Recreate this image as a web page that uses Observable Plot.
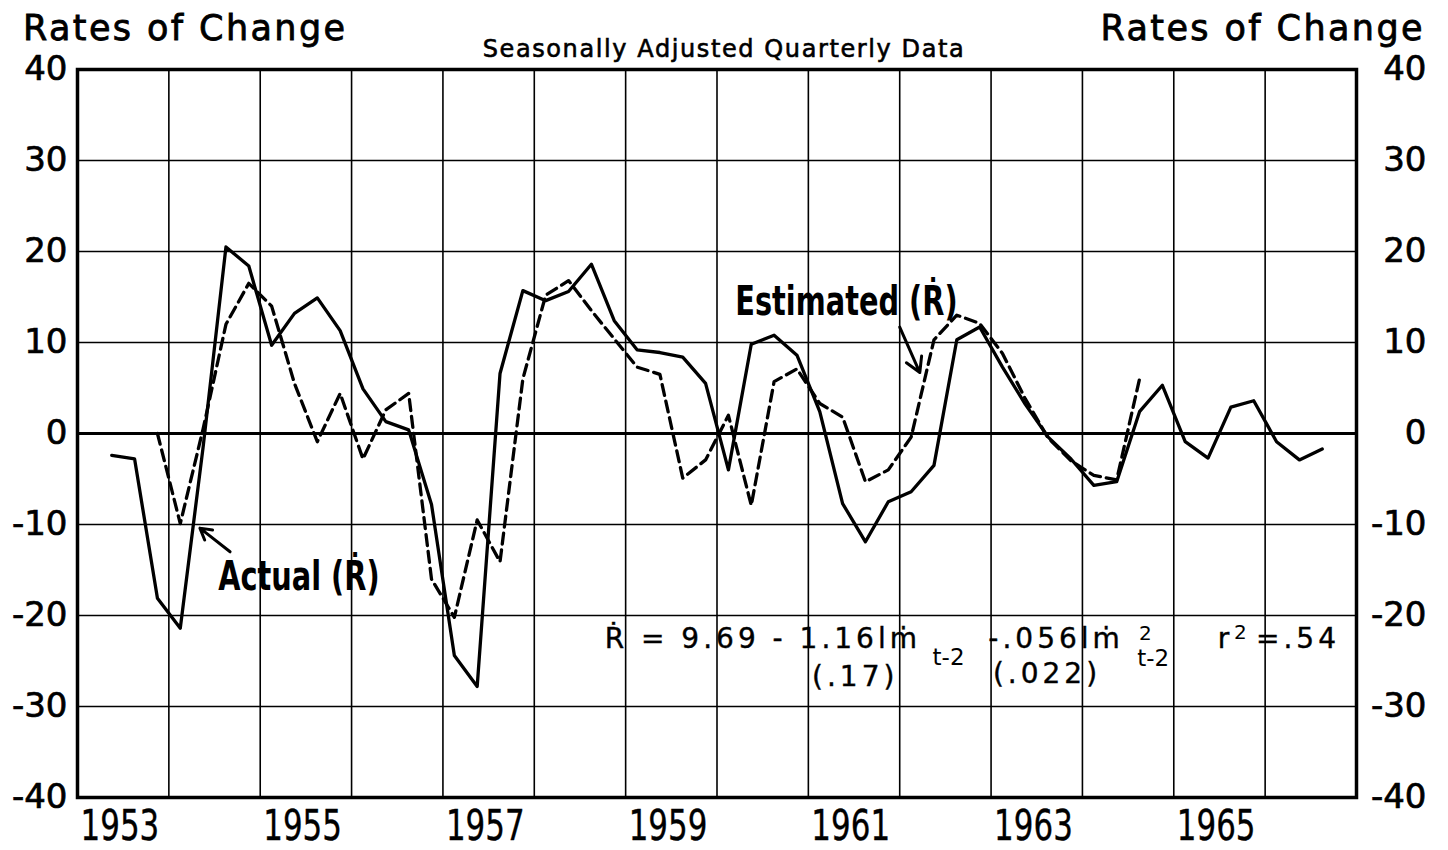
<!DOCTYPE html>
<html><head><meta charset="utf-8">
<script src="https://cdn.jsdelivr.net/npm/d3@7"></script>
<script src="https://cdn.jsdelivr.net/npm/@observablehq/plot@0.6"></script>
<style>
html,body{margin:0;padding:0;background:#fff;}
#chart{position:relative;width:1448px;height:850px;}
</style></head><body><div id="chart"></div>
<script>
// ---- data ----
const yearGrid = [1953,1954,1955,1956,1957,1958,1959,1960,1961,1962,1963,1964,1965,1966,1967];
const yearLabels = [1953,1955,1957,1959,1961,1963,1965];
const yTicks = [-40,-30,-20,-10,0,10,20,30,40];

// Actual (R-dot), quarterly, first value = 1953 Q2
const actualFirstYear = 1953, actualFirstQuarter = 2;
const actualValues = [
  -2.4, -2.8, -18.1,
  -21.4, -1.5, 20.5, 18.4,
  9.7, 13.2, 14.9, 11.3,
  4.9, 1.3, 0.4, -7.8,
  -24.4, -27.8, 6.6, 15.7,
  14.6, 15.6, 18.6, 12.4,
  9.2, 8.9, 8.4, 5.5,
  -4.0, 9.8, 10.8, 8.6,
  2.4, -7.7, -11.9, -7.5,
  -6.4, -3.5, 10.3, 11.7,
  7.3, 3.2, -0.4, -2.8,
  -5.7, -5.3, 2.4, 5.3,
  -0.9, -2.7, 2.9, 3.6,
  -0.9, -2.9, -1.7
];
// Estimated (R-dot), quarterly, first value = 1953 Q4
const estFirstYear = 1953, estFirstQuarter = 4;
const estimatedValues = [
  0.0,
  -9.9, 0.5, 12.0, 16.5,
  14.0, 5.5, -0.9, 4.4,
  -2.8, 2.6, 4.4, -16.0,
  -20.2, -9.5, -14.1, 6.0,
  15.2, 16.8, 13.5, 10.4,
  7.3, 6.5, -4.9, -2.9,
  2.0, -7.9, 5.7, 7.1,
  3.3, 1.8, -5.3, -4.0,
  -0.4, 10.3, 13.0, 12.1,
  8.8, 3.8, -0.5, -3.0,
  -4.6, -5.1, 6.0
];

// annotation texts and anchor points (data units)
const seriesLabels = [
  {text: "Actual (Ṙ)", x: 1954.54, y: -15.8},
  {text: "Estimated (Ṙ)", x: 1960.20, y: 14.45}
];
const labelArrows = [
  {x1: 1954.67, y1: -13.0, x2: 1954.34, y2: -10.4},
  {x1: 1962.00, y1: 11.7, x2: 1962.22, y2: 6.7}
];
const equationMain = [
  {text: "Ṙ = 9.69 - 1.16lṁ", x: 1958.77, y: -22.6},
  {text: "(.17)", x: 1961.04, y: -26.8},
  {text: "-.056lṁ", x: 1962.97, y: -22.6},
  {text: "(.022)", x: 1963.02, y: -26.45},
  {text: "r", x: 1965.48, y: -22.6},
  {text: "=.54", x: 1965.90, y: -22.6}
];
const equationSub = [
  {text: "t-2", x: 1962.36, y: -24.6},
  {text: "t-2", x: 1964.60, y: -24.7}
];
const equationSup = [
  {text: "2", x: 1964.62, y: -22.0},
  {text: "2", x: 1965.66, y: -21.9}
];

// ---- build rows ----
const quarterRows = (year, q, values) =>
  values.map((v, i) => ({t: year + (q - 1 + i) / 4 + 0.125, v}));
const actualRows = quarterRows(actualFirstYear, actualFirstQuarter, actualValues);
const estRows = quarterRows(estFirstYear, estFirstQuarter, estimatedValues);

const yFmt = d => d < 0 ? "-" + (-d) : String(d);

const chart = Plot.plot({
  width: 1448, height: 850,
  marginLeft: 77, marginRight: 92, marginTop: 69, marginBottom: 53,
  x: {domain: [1953, 1967], label: null},
  y: {domain: [-40, 40], label: null},
  style: {fontFamily: "'DejaVu Sans', sans-serif", color: "#000", background: "#fff"},
  marks: [
    Plot.ruleX(yearGrid, {stroke: "#000", strokeWidth: 1.6}),
    Plot.ruleY(yTicks, {stroke: "#000", strokeWidth: 1.6}),
    Plot.ruleY([0], {stroke: "#000", strokeWidth: 3}),
    Plot.frame({stroke: "#000", strokeWidth: 3.5}),
    Plot.axisX(yearLabels, {anchor: "bottom", tickSize: 0, tickPadding: 12, textAnchor: "start", dx: 3,
      fontSize: 43, tickFormat: d => String(d)}),
    Plot.axisY(yTicks, {anchor: "left", tickSize: 0, tickPadding: 10, fontSize: 34, tickFormat: yFmt}),
    Plot.axisY(yTicks, {anchor: "right", tickSize: 0, tickPadding: 70, textAnchor: "end", fontSize: 34, tickFormat: yFmt}),
    Plot.line(actualRows, {x: "t", y: "v", stroke: "#000", strokeWidth: 3.3}),
    Plot.line(estRows, {x: "t", y: "v", stroke: "#000", strokeWidth: 3.3, strokeDasharray: "11,6"}),
    Plot.arrow(labelArrows, {x1: "x1", y1: "y1", x2: "x2", y2: "y2", stroke: "#000", strokeWidth: 3, headLength: 14}),
    Plot.text(seriesLabels, {x: "x", y: "y", text: "text", textAnchor: "start", fontSize: 40,
      fontWeight: "bold", fill: "#000"}),
    Plot.text(equationMain, {x: "x", y: "y", text: "text", fontSize: 28, textAnchor: "start", fill: "#000"}),
    Plot.text(equationSub, {x: "x", y: "y", text: "text", fontSize: 23, textAnchor: "start", fill: "#000"}),
    Plot.text(equationSup, {x: "x", y: "y", text: "text", fontSize: 20, textAnchor: "start", fill: "#000"})
  ]
});
document.getElementById("chart").appendChild(chart);

const svg = d3.select(chart);
// horizontally condense glyphs of text elements positioned by a translate transform
function condense(sel, s) {
  sel.each(function () {
    const el = d3.select(this);
    const t = el.attr("transform") || "";
    el.attr("transform", `${t} scale(${s},1)`);
  });
}
const mainTexts = new Set(equationMain.map(d => d.text));
const labelTexts = new Set(seriesLabels.map(d => d.text));
svg.selectAll("text").filter(function () { return mainTexts.has(this.textContent); })
  .style("letter-spacing", "4px").attr("stroke", "#000").attr("stroke-width", 0.4);
condense(svg.selectAll("g[aria-label='x-axis tick label'] text"), 0.72);
condense(svg.selectAll("text").filter(function () { return labelTexts.has(this.textContent); }), 0.72);
svg.selectAll("g[aria-label='y-axis tick label'] text").attr("stroke", "#000").attr("stroke-width", 0.7);
svg.selectAll("g[aria-label='x-axis tick label'] text").attr("stroke", "#000").attr("stroke-width", 0.4);

const addTitle = (txt, x, y, size, anchor, ls, sw) =>
  svg.append("text").attr("x", x).attr("y", y).attr("text-anchor", anchor)
    .attr("font-size", size).attr("fill", "#000").attr("stroke", "#000").attr("stroke-width", sw)
    .style("letter-spacing", ls).text(txt);
addTitle("Rates of Change", 23, 40, 35, "start", "2.4px", 0.8);
addTitle("Rates of Change", 1425, 40, 35, "end", "2.4px", 0.8);
addTitle("Seasonally Adjusted Quarterly Data", 724, 57, 24, "middle", "1.6px", 0.6);
</script></body></html>
